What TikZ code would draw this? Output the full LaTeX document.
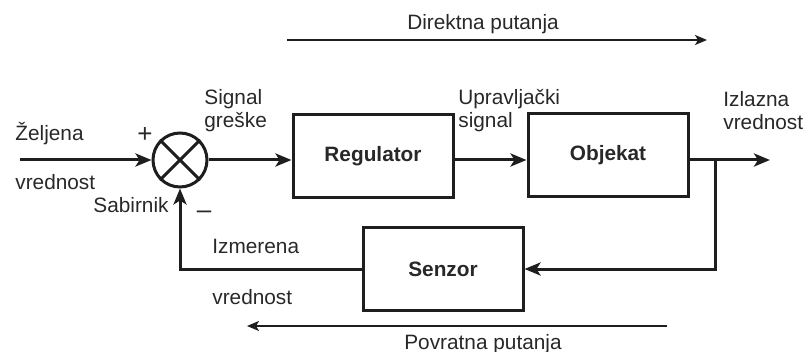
\documentclass[tikz,border=0pt]{standalone}
\usepackage{fontspec}
\setmainfont{Liberation Sans}
\usetikzlibrary{arrows.meta}
\definecolor{ink}{RGB}{30,30,30}
\definecolor{txt}{RGB}{40,40,40}
\begin{document}
\begin{tikzpicture}[x=0.5pt,y=-0.5pt,
  font=\fontsize{10.4}{12}\selectfont,
  every node/.append style={text=txt},
  blk/.style={draw=ink,line width=1.5pt,minimum width=80pt,minimum height=41.5pt,
    inner sep=0pt,font=\fontsize{10.4}{12}\selectfont\bfseries},
  sumnode/.style={draw=ink,line width=1.5pt,circle,minimum size=27pt,inner sep=0pt},
  sig/.style={draw=ink,line width=1.5pt,-{Stealth[length=8pt,width=6.5pt,inset=2pt]}},
  pathline/.style={draw=ink,line width=0.9pt,-{Stealth[length=6pt,width=5pt,inset=1.5pt]}},
  lbl/.style={anchor=base west,inner sep=0pt},
  cbl/.style={anchor=base,inner sep=0pt}]
\useasboundingbox (0,0) rectangle (807,352);

% blocks
\node[sumnode] (sum) at (180,160) {};
\draw[ink,line width=1.5pt] (sum.135) -- (sum.-45) (sum.45) -- (sum.-135);
\node[blk] (reg) at (373,156) {Regulator};
\node[blk] (obj) at (608,155) {Objekat};
\node[blk] (sen) at (443,269) {Senzor};

% signal connectors
\coordinate (in) at (20,160);
\coordinate (out) at (770,160);
\coordinate (br) at (715,160);
\draw[sig] (in) -- (sum.west);
\draw[sig] (sum.east) -- (sum.east -| reg.west);
\draw[sig] (sum.east -| reg.east) -- (sum.east -| obj.west);
\draw[sig] (sum.east -| obj.east) -- (out);
\draw[sig] (br) |- (sen.east);
\draw[sig] (sen.west) -| (sum.south);

% forward and feedback path markers
\coordinate (d1) at (287,40);
\coordinate (d2) at (707,40);
\draw[pathline] (d1) -- (d2);
\node[cbl] (dtxt) at (483,30) {Direktna putanja};
\coordinate (p1) at (667,326);
\coordinate (p2) at (247,326);
\draw[pathline] (p1) -- (p2);
\node[cbl] (ptxt) at (483,349) {Povratna putanja};

% labels
\node[lbl] (zel) at (15,141) {Željena};
\node[lbl] (vr1) at (15,190) {vrednost};
\node[lbl] (sab) at (93,213) {Sabirnik};
\node[inner sep=0pt] (plus) at (145,135) {\fontsize{13}{13}\selectfont +};
\node[inner sep=0pt] (minus) at (204,215) {\fontsize{13}{13}\selectfont –};
\node[lbl] (sg1) at (204,105) {Signal};
\node[lbl] (sg2) at (204,128) {greške};
\node[lbl] (up1) at (458,105) {Upravljački};
\node[lbl] (up2) at (458,128) {signal};
\node[lbl] (iz1) at (723,107) {Izlazna};
\node[lbl] (iz2) at (723,130) {vrednost};
\node[lbl] (im1) at (212,253) {Izmerena};
\node[lbl] (im2) at (212,304) {vrednost};
\end{tikzpicture}
\end{document}
